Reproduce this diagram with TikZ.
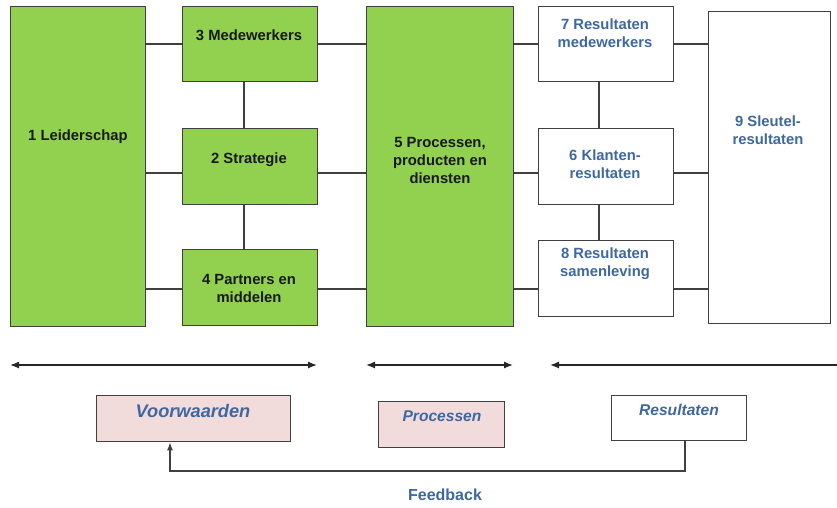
\documentclass[tikz,border=0pt]{standalone}
\usepackage{fontspec}
\setmainfont{Liberation Sans}
\usetikzlibrary{arrows.meta}
\definecolor{efgreen}{HTML}{92D050}
\definecolor{efblue}{HTML}{3F67A0}
\definecolor{efpink}{HTML}{F2DCDB}
\definecolor{efline}{HTML}{404040}
\tikzset{
  box/.style={draw=efline, line width=1.3pt, inner sep=0pt, anchor=north west},
  gbox/.style={box, fill=efgreen},
  wbox/.style={box, fill=white},
  pbox/.style={box, fill=efpink},
  btxt/.style={font=\fontsize{14.8}{18}\selectfont\bfseries, text=black!90, align=center, inner sep=0pt},
  rtxt/.style={font=\fontsize{14.8}{18}\selectfont\bfseries, text=efblue, align=center, inner sep=0pt},
  itxt/.style={font=\fontsize{15.6}{18}\selectfont\bfseries\itshape, text=efblue, inner sep=0pt},
  conn/.style={draw=efline, line width=1.2pt},
  harrow/.style={draw=black!85, line width=1.3pt},
  tip/.tip={Latex[length=9pt,width=7pt]}
}
\begin{document}
\begin{tikzpicture}[x=1pt,y=-1pt]
\useasboundingbox (0,0) rectangle (837,507);
% boxes
\node[gbox, minimum width=135pt, minimum height=320pt] (b1) at (10,6) {};
\node[gbox, minimum width=135pt, minimum height=75pt] (b3) at (182,6) {};
\node[gbox, minimum width=135pt, minimum height=76pt] (b2) at (182,128) {};
\node[gbox, minimum width=135pt, minimum height=76pt] (b4) at (182,249) {};
\node[gbox, minimum width=147pt, minimum height=320pt] (b5) at (366,6) {};
\node[wbox, minimum width=135pt, minimum height=75pt] (b7) at (538,6) {};
\node[wbox, minimum width=135pt, minimum height=76pt] (b6) at (538,128) {};
\node[wbox, minimum width=135pt, minimum height=76pt] (b8) at (538,240) {};
\node[wbox, minimum width=122pt, minimum height=312pt] (b9) at (708,11) {};
% texts
\node[btxt] (t1) at (78,137) {1 Leiderschap};
\node[btxt] (t3) at (249,35) {3 Medewerkers};
\node[btxt] (t2) at (249,160) {2 Strategie};
\node[btxt] (t4) at (249,288) {4 Partners en\\middelen};
\node[btxt] (t5) at (440,160) {5 Processen,\\producten en\\diensten};
\node[rtxt] (t7) at (605,33) {7 Resultaten\\medewerkers};
\node[rtxt] (t6) at (605,164) {6 Klanten-\\resultaten};
\node[rtxt] (t8) at (605,264) {8 Resultaten\\samenleving};
\node[rtxt] (t9) at (768,130) {9 Sleutel-\\resultaten};
% connectors
\foreach \yy in {44,173,289}{
  \draw[conn] (b1.east |- 0,\yy) -- (b3.west |- 0,\yy);
  \draw[conn] (b3.east |- 0,\yy) -- (b5.west |- 0,\yy);
  \draw[conn] (b5.east |- 0,\yy) -- (b7.west |- 0,\yy);
  \draw[conn] (b7.east |- 0,\yy) -- (b9.west |- 0,\yy);
}
\draw[conn] (b3.south -| 244,0) -- (b2.north -| 244,0);
\draw[conn] (b2.south -| 244,0) -- (b4.north -| 244,0);
\draw[conn] (b7.south -| 599,0) -- (b6.north -| 599,0);
\draw[conn] (b6.south -| 599,0) -- (b8.north -| 599,0);
% range arrows
\coordinate (a1l) at (10,365);
\coordinate (a1r) at (317,365);
\coordinate (a2l) at (366,365);
\coordinate (a2r) at (513,365);
\coordinate (a3l) at (550,365);
\coordinate (a3r) at (837,365);
\draw[harrow, {tip}-{tip}] (a1l) -- (a1r);
\draw[harrow, {tip}-{tip}] (a2l) -- (a2r);
\draw[harrow, {tip}-] (a3l) -- (a3r);
% bottom boxes
\node[pbox, minimum width=194pt, minimum height=46pt] (bv) at (96,395) {};
\node[pbox, minimum width=126pt, minimum height=46pt] (bp) at (378,401) {};
\node[wbox, minimum width=135pt, minimum height=45pt] (br) at (611,395) {};
\node[itxt, font=\fontsize{18.2}{21}\selectfont\bfseries\itshape] (tv) at (193,411) {Voorwaarden};
\node[itxt] (tp) at (442,416) {Processen};
\node[itxt] (tr) at (679,410) {Resultaten};
% feedback
\coordinate (fb1) at (685,471);
\coordinate (fb2) at (170,471);
\draw[conn, -{Latex[length=8pt,width=6pt]}] (br.south -| 685,0) -- (fb1) -- (fb2) -- (bv.south -| 170,0);
\node[font=\fontsize{16}{19}\selectfont\bfseries, text=efblue, inner sep=0pt] (fbt) at (445,495) {Feedback};
\end{tikzpicture}
\end{document}
